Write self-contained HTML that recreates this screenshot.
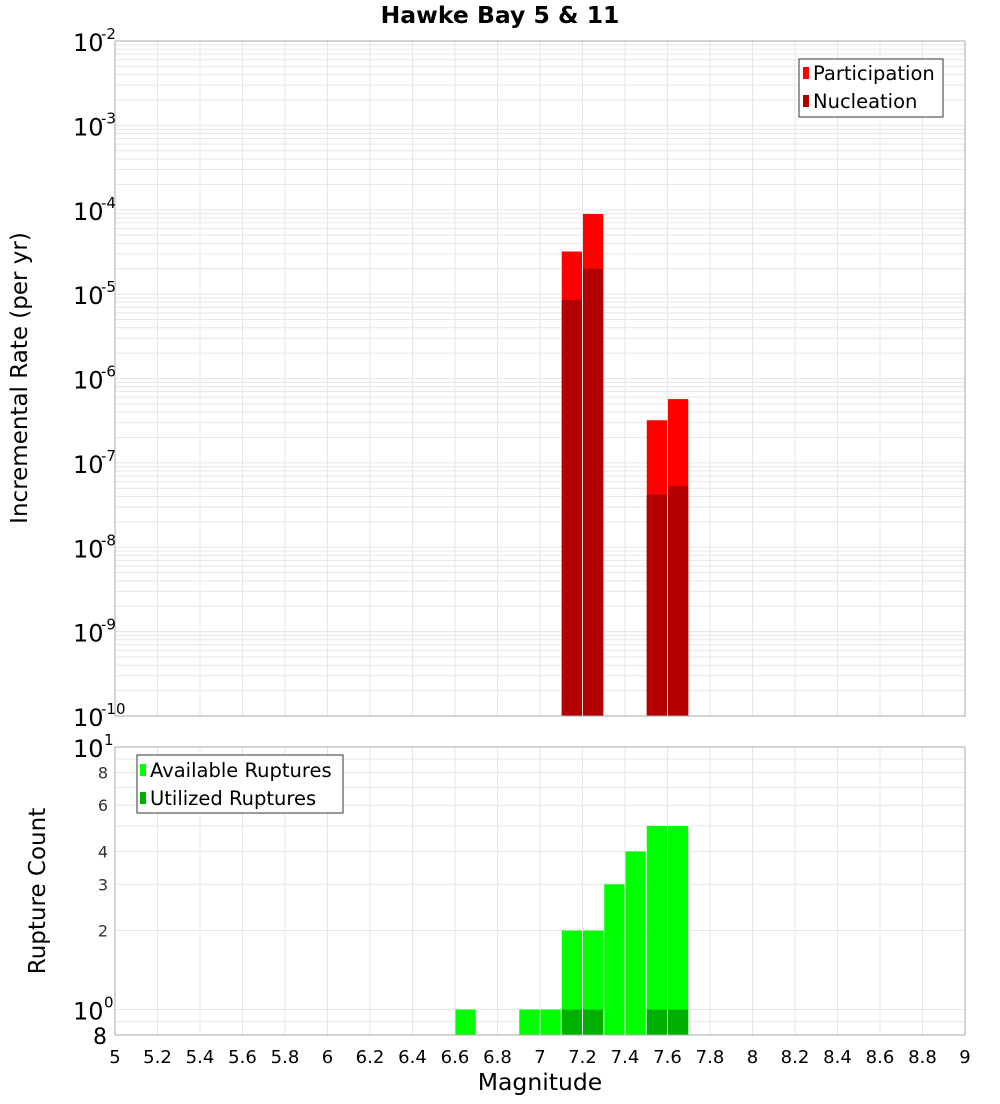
<!DOCTYPE html>
<html><head><meta charset="utf-8"><style>
body{margin:0;background:#fff;font-family:"DejaVu Sans","Liberation Sans",sans-serif}
svg text{font-family:"DejaVu Sans","Liberation Sans",sans-serif}
</style></head><body>
<svg id="c" width="1000" height="1100" xmlns="http://www.w3.org/2000/svg">
<text x="500" y="23" text-anchor="middle" font-size="23.5" font-weight="bold">Hawke Bay 5 &amp; 11</text>
<g id="gtop"></g>
<g id="gbot"></g>
<text transform="translate(27,378) rotate(-90)" text-anchor="middle" font-size="23">Incremental Rate (per yr)</text>
<text transform="translate(45,891) rotate(-90)" text-anchor="middle" font-size="23">Rupture Count</text>
<text x="540" y="1090" text-anchor="middle" font-size="23.5">Magnitude</text>
<g>
<rect x="799" y="59" width="144" height="58" fill="#fff" stroke="#333"/>
<rect x="803" y="67" width="6" height="12" fill="#ff0000"/>
<text x="813" y="80" font-size="19.5">Participation</text>
<rect x="803" y="95" width="6" height="12" fill="#b20000"/>
<text x="813" y="108" font-size="19.5">Nucleation</text>
</g>
<g>
<rect x="137" y="755" width="206" height="58" fill="#fff" stroke="#333"/>
<rect x="140" y="764" width="6" height="12" fill="#00ff00"/>
<text x="150" y="777" font-size="19.5">Available Ruptures</text>
<rect x="140" y="792" width="6" height="12" fill="#00b000"/>
<text x="150" y="805" font-size="19.5">Utilized Ruptures</text>
</g>
</svg>
<script>
const rateMags=[7.15,7.25,7.55,7.65];
const participation=[3.2e-5,8.9e-5,3.2e-7,5.7e-7];
const nucleation=[8.5e-6,2.0e-5,4.2e-8,5.3e-8];
const countMags=[6.65,6.95,7.05,7.15,7.25,7.35,7.45,7.55,7.65];
const available=[1,1,1,2,2,3,4,5,5];
const utilizedMags=[7.15,7.25,7.55,7.65];
const utilized=[1,1,1,1];
const xTicks=[5,5.2,5.4,5.6,5.8,6,6.2,6.4,6.6,6.8,7,7.2,7.4,7.6,7.8,8,8.2,8.4,8.6,8.8,9];
const rateExps=[-2,-3,-4,-5,-6,-7,-8,-9,-10];
const countTicks=[8,2,3,4,6,8];

const NS="http://www.w3.org/2000/svg";
const L=115,R=965,T1=41,B1=716,T2=747,B2=1035;
const x=m=>L+(m-5)/4*(R-L);
const y1=v=>T1+(-2-Math.log10(v))/8*(B1-T1);
const c0=Math.log10(0.8);
const y2=v=>B2-(Math.log10(v)-c0)/(1-c0)*(B2-T2);
function mk(p,t,a){const e=document.createElementNS(NS,t);for(const k in a)e.setAttribute(k,a[k]);p.appendChild(e);return e;}
const gTop=document.getElementById('gtop'),gBot=document.getElementById('gbot');
for(let e=-10;e<-2;e++)for(let k=1;k<10;k++){const yy=y1(k*Math.pow(10,e));
const g=mk(gTop,'line',{x1:L,x2:R,y1:yy,y2:yy,stroke:'#e6e6e6','stroke-width':1});

}
for(const t of xTicks){for(const [p,a,b] of [[gTop,T1,B1],[gBot,T2,B2]]){
const g=mk(p,'line',{x1:x(t),x2:x(t),y1:a,y2:b,stroke:'#e6e6e6','stroke-width':1});

}}
for(const v of [0.8,0.9,1,2,3,4,5,6,7,8,9,10]){
const g=mk(gBot,'line',{x1:L,x2:R,y1:y2(v),y2:y2(v),stroke:'#e6e6e6','stroke-width':1});

}
const bw=(R-L)/40;
rateMags.forEach((m,i)=>{
const r=mk(gTop,'rect',{x:x(m)-bw/2+0.5,y:y1(participation[i]),width:bw-1,height:B1-y1(participation[i]),fill:'#ff0000'});


const n=mk(gTop,'rect',{x:x(m)-bw/2+0.5,y:y1(nucleation[i]),width:bw-1,height:B1-y1(nucleation[i]),fill:'#b20000'});

});
countMags.forEach((m,i)=>{
const r=mk(gBot,'rect',{x:x(m)-bw/2+0.5,y:y2(available[i]),width:bw-1,height:B2-y2(available[i]),fill:'#00ff00'});

});
utilizedMags.forEach((m,i)=>{
const r=mk(gBot,'rect',{x:x(m)-bw/2+0.5,y:y2(utilized[i]),width:bw-1,height:B2-y2(utilized[i]),fill:'#00b000'});

});
mk(gTop,'rect',{x:L,y:T1,width:R-L,height:B1-T1,fill:'none',stroke:'#aaa'});
mk(gBot,'rect',{x:L,y:T2,width:R-L,height:B2-T2,fill:'none',stroke:'#aaa'});
rateExps.forEach(e=>{const yy=y1(Math.pow(10,e));
const t=mk(gTop,'text',{x:73,y:yy+10,'font-size':24});


t.textContent='10';
const s=mk(gTop,'text',{x:101,y:yy-2,'font-size':15});


s.textContent=String(e);});
[[10,'10','1'],[1,'10','0']].forEach(([v,b,e])=>{const yy=y2(v);
const t=mk(gBot,'text',{x:73,y:yy+10,'font-size':24});


t.textContent=b;
const s=mk(gBot,'text',{x:104,y:yy-2,'font-size':15});


s.textContent=e;});
countTicks.slice(1).forEach(v=>{
const t=mk(gBot,'text',{x:108,y:y2(v)+6,'font-size':16,'text-anchor':'end',fill:'#333'});


t.textContent=v;});
const t8=mk(gBot,'text',{x:107,y:y2(0.8)+9,'font-size':22,'text-anchor':'end'});


t8.textContent=countTicks[0];
xTicks.forEach(v=>{
const t=mk(gBot,'text',{x:x(v),y:1063,'font-size':18,'text-anchor':'middle'});


t.textContent=String(v);});
</script>
</body></html>
